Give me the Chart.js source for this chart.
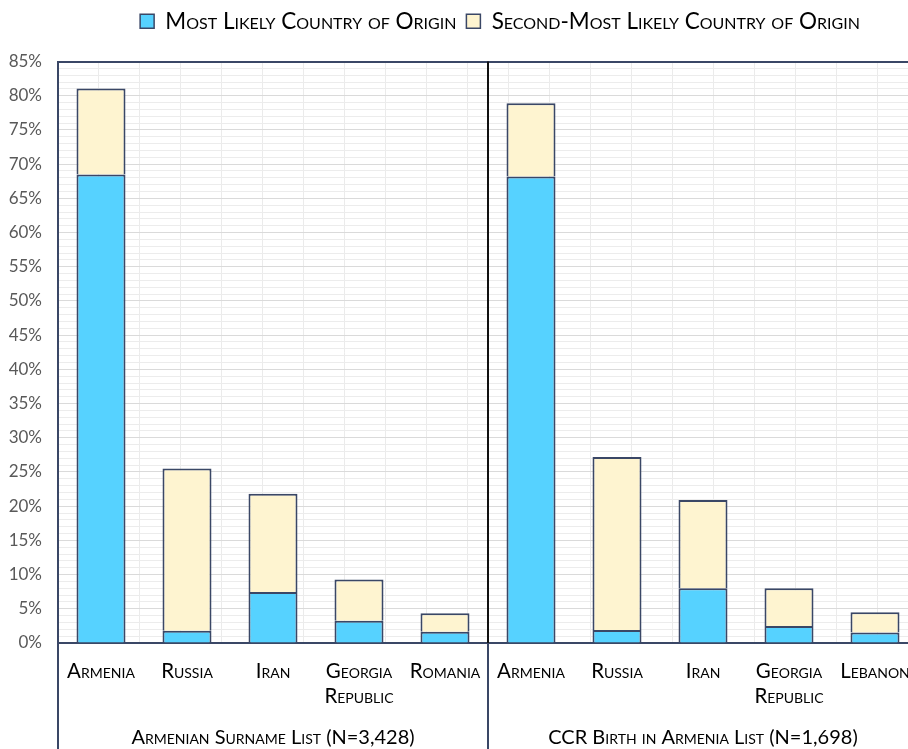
<!DOCTYPE html>
<html>
<head>
<meta charset="utf-8">
<script src="https://cdn.jsdelivr.net/npm/chart.js@4/dist/chart.umd.min.js"></script>
<style>
  html, body { margin: 0; padding: 0; background: #ffffff; overflow: hidden; }
  #wrap { position: absolute; left: 0; top: 0; width: 1000px; height: 749px; }
</style>
</head>
<body>
<div id="wrap"><canvas id="c" width="1000" height="749"></canvas></div>
<script>
const categories = ['Armenia', 'Russia', 'Iran', ['Georgia', 'Republic'], 'Romania',
                    'Armenia', 'Russia', 'Iran', ['Georgia', 'Republic'], 'Lebanon'];
const groups = ['Armenian Surname List (N=3,428)', 'CCR Birth in Armenia List (N=1,698)'];
const groupSize = 5;
const mostLikely = [68.5, 1.8, 7.45, 3.25, 1.65, 68.2, 1.9, 8.0, 2.5, 1.55];
const secondMost = [12.55, 23.7, 14.35, 6.05, 2.7, 10.7, 25.3, 12.9, 5.5, 2.95];
const yTicks = [0, 5, 10, 15, 20, 25, 30, 35, 40, 45, 50, 55, 60, 65, 70, 75, 80, 85];

const FONT = 'Lato, "Open Sans", sans-serif';
const NAVY = '#3a4766';

const extras = {
  id: 'extras',
  afterDraw(chart) {
    const ctx = chart.ctx;
    const x = chart.scales.x;
    const area = chart.chartArea;
    const bottom = chart.height;
    const half = (x.getPixelForValue(1) - x.getPixelForValue(0)) / 2;
    ctx.save();
    const xDiv = (x.getPixelForValue(groupSize - 1) + x.getPixelForValue(groupSize)) / 2;
    ctx.lineWidth = 2;
    ctx.strokeStyle = '#111111';
    ctx.beginPath(); ctx.moveTo(xDiv, area.top); ctx.lineTo(xDiv, area.bottom); ctx.stroke();
    ctx.strokeStyle = NAVY;
    [area.left, xDiv, area.right].forEach(px => {
      ctx.beginPath(); ctx.moveTo(px, area.bottom); ctx.lineTo(px, bottom); ctx.stroke();
    });
    ctx.font = 'small-caps 20px ' + FONT;
    ctx.fillStyle = '#000000';
    ctx.textAlign = 'center';
    ctx.textBaseline = 'middle';
    groups.forEach((g, i) => {
      const a = x.getPixelForValue(i * groupSize) - half;
      const b = x.getPixelForValue(i * groupSize + groupSize - 1) + half;
      ctx.fillText(g, (a + b) / 2, 738);
    });
    ctx.restore();
  }
};

const bw = { top: 2, left: 2, right: 2, bottom: 0 };

new Chart(document.getElementById('c'), {
  type: 'bar',
  data: {
    labels: categories,
    datasets: [
      { label: 'Most Likely Country of Origin', data: mostLikely, xAxisID: 'x', yAxisID: 'y',
        backgroundColor: '#56d2ff', borderColor: NAVY, borderWidth: bw, borderSkipped: false },
      { label: 'Second-Most Likely Country of Origin', data: secondMost, xAxisID: 'x', yAxisID: 'y',
        backgroundColor: '#fef4d0', borderColor: NAVY, borderWidth: bw, borderSkipped: false }
    ]
  },
  options: {
    responsive: false,
    animation: false,
    devicePixelRatio: 1,
    layout: { padding: { left: 0, right: 0, top: 0, bottom: 0 } },
    datasets: { bar: { categoryPercentage: 1.0, barPercentage: 0.57 } },
    plugins: {
      legend: {
        position: 'top',
        labels: {
          font: { family: FONT, size: 22.5, weight: 'small-caps' },
          color: '#000000',
          boxWidth: 14, boxHeight: 14, padding: 10
        }
      },
      title: {
        display: true,
        text: '',
        weight: 500,
        font: { size: 1, lineHeight: 1 },
        padding: { top: 0, bottom: 18 }
      },
      tooltip: { enabled: false }
    },
    scales: {
      x: {
        type: 'category',
        stacked: true,
        offset: true,
        position: 'bottom',
        grid: { display: false },
        border: { display: true, color: NAVY, width: 2 },
        ticks: {
          font: { family: FONT, size: 20.5, weight: 'small-caps', lineHeight: 1.22 },
          color: '#000000', padding: 8, maxRotation: 0, autoSkip: false
        },
        afterFit(s) { s.height = 106; }
      },
      xg: {
        type: 'linear',
        position: 'bottom',
        min: -0.5, max: 9.5,
        ticks: { display: false, stepSize: 0.5 },
        grid: { color: '#ebebeb', lineWidth: 1, drawTicks: false },
        border: { display: false },
        afterFit(s) { s.height = 0; }
      },
      y: {
        type: 'linear',
        stacked: true,
        min: 0, max: 85,
        afterBuildTicks(s) {
          const t = [];
          for (let v = 0; v <= 85; v++) t.push({ value: v });
          s.ticks = t;
        },
        ticks: {
          autoSkip: false,
          padding: 16,
          color: '#595959',
          font: { family: FONT, size: 17 },
          callback: v => yTicks.includes(v) ? v + '%' : ''
        },
        grid: {
          drawTicks: false,
          color: c => c.tick && c.tick.value === 85 ? NAVY : (c.tick && c.tick.value % 5 === 0 ? '#dadada' : '#ececec'),
          lineWidth: c => c.tick && c.tick.value === 85 ? 2 : 1
        },
        border: { display: true, color: NAVY, width: 2 },
        afterFit(s) { s.width = 58; }
      },
      yr: {
        type: 'linear',
        position: 'right',
        min: 0, max: 85,
        ticks: { display: false },
        grid: { display: false, drawTicks: false },
        border: { display: false },
        afterFit(s) { s.width = 82; }
      }
    }
  },
  plugins: [extras]
});
</script>
</body>
</html>
